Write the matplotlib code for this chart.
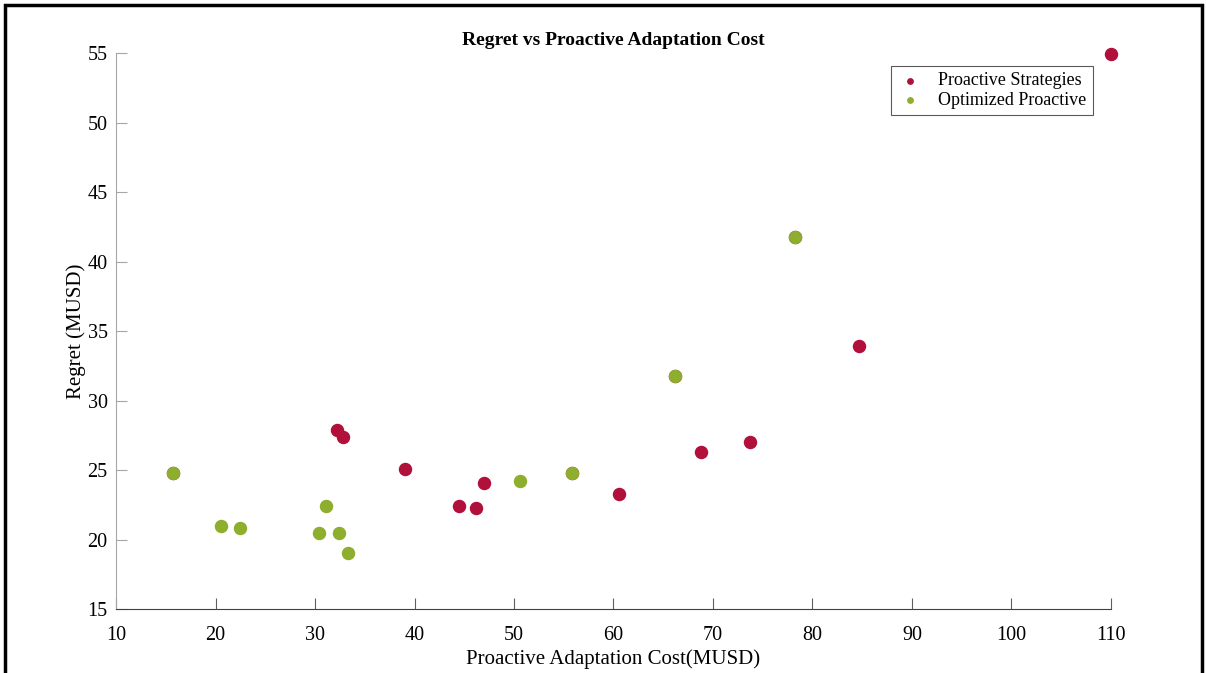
import matplotlib
matplotlib.use("Agg")
from matplotlib import pyplot as plt
from matplotlib.patches import Rectangle

plt.rcParams['font.family'] = ['Liberation Serif', 'DejaVu Serif']

# Proactive strategies (cost, regret)
pro_cost = [15.7, 32.2, 32.8, 39.0, 44.5, 46.2, 47.0, 55.8, 60.6, 66.2, 68.8, 73.7, 78.2, 84.7, 110.0]
pro_regret = [24.8, 27.9, 27.4, 25.1, 22.4, 22.3, 24.1, 24.8, 23.3, 31.8, 26.3, 27.0, 41.8, 33.9, 54.9]

# Optimized proactive
opt_cost = [15.7, 20.6, 22.5, 30.4, 31.1, 32.4, 33.3, 50.6, 55.8, 66.2, 78.2]
opt_regret = [24.8, 21.0, 20.8, 20.5, 22.4, 20.5, 19.0, 24.2, 24.8, 31.8, 41.8]

red = '#b0103a'
green = '#8eae2e'

fig = plt.figure(figsize=(12.06, 6.73), dpi=100)
fig.patches.append(Rectangle((0.004, -0.1), 0.993, 1.093, transform=fig.transFigure,
                             fill=False, edgecolor='black', linewidth=2.5))
ax = fig.add_axes([0.0962, 0.0951, 0.825, 0.826])

ax.scatter(pro_cost, pro_regret, s=75, color=red, label='Proactive Strategies', zorder=3, clip_on=False)
ax.scatter(opt_cost, opt_regret, s=75, color=green, label='Optimized Proactive', zorder=4, clip_on=False)

ax.set_xlim(10, 110)
ax.set_ylim(15, 55)
ax.set_xticks(range(10, 111, 10))
ax.set_yticks(range(15, 56, 5))
ax.spines['top'].set_visible(False)
ax.spines['right'].set_visible(False)
ax.spines['left'].set_color('#a6a6a6')
ax.spines['bottom'].set_color('#404040')
ax.tick_params(axis='x', direction='in', length=8, width=0.8, color='#606060', labelsize=14.5, pad=12)
ax.tick_params(axis='y', direction='in', length=8, width=0.8, color='#a6a6a6', labelsize=14.5, pad=6)

ax.set_title('Regret vs Proactive Adaptation Cost', fontsize=14, fontweight='bold', pad=6)
ax.set_xlabel('Proactive Adaptation Cost(MUSD)', fontsize=15, labelpad=3)
ax.set_ylabel('Regret (MUSD)', fontsize=15, labelpad=1)

leg = ax.legend(loc='upper right', bbox_to_anchor=(0.991, 0.993), fontsize=13, markerscale=0.45,
                frameon=True, fancybox=False, handletextpad=0.8, borderpad=0.35, labelspacing=0.15,
                handlelength=1.5)
leg.get_frame().set_edgecolor('#303030')
leg.get_frame().set_linewidth(0.8)

fig.savefig('out.png', dpi=100)
